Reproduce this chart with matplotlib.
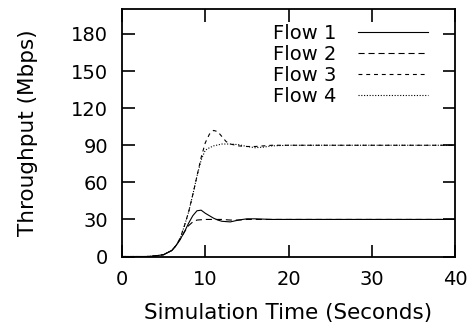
import matplotlib.pyplot as plt
import numpy as np

plt.rcParams['font.family'] = ['DejaVu Sans']

# time (s) and throughput (Mbps)
t1 = [0, 3, 4, 5, 6, 6.5, 7, 7.5, 8, 8.5, 9, 9.5, 10, 10.5, 11, 11.5, 12, 13, 14, 15, 16, 18, 20, 25, 30, 35, 40]
flow1 = [0, 0, 0.5, 1.5, 5, 9, 14, 20, 27, 33, 37, 37.5, 35, 33, 31, 29.5, 28.5, 28, 29.5, 30.5, 30.5, 30, 30, 30, 30, 30, 30]

t2 = [0, 3, 4, 5, 6, 6.5, 7, 7.5, 8, 8.5, 9, 10, 11, 12, 13, 14, 15, 16, 18, 20, 25, 30, 35, 40]
flow2 = [0, 0, 0.5, 1.5, 5, 9, 14, 20, 25, 28, 29.5, 30, 30, 30, 29.5, 29.5, 30, 30, 30, 30, 30, 30, 30, 30]

t3 = [0, 3, 4, 5, 6, 6.5, 7, 7.5, 8, 8.5, 9, 9.5, 10, 10.5, 11, 11.5, 12, 12.5, 13, 14, 15, 16, 17, 18, 20, 25, 30, 35, 40]
flow3 = [0, 0, 0.5, 1.5, 5, 9, 15, 25, 36, 50, 65, 80, 92, 99, 102, 101, 97, 93, 91, 89.5, 89, 89, 89.5, 90, 90, 90, 90, 90, 90]

t4 = [0, 3, 4, 5, 6, 6.5, 7, 7.5, 8, 8.5, 9, 9.5, 10, 10.5, 11, 12, 13, 14, 15, 16, 17, 18, 20, 25, 30, 35, 40]
flow4 = [0, 0, 0.5, 1.5, 5, 9, 15, 25, 36, 50, 65, 78, 86, 88, 89.5, 91, 91, 90.5, 89, 88, 88.5, 89.5, 90, 90, 90, 90, 90]

fig, ax = plt.subplots(figsize=(4.73, 3.31), dpi=100)
fig.subplots_adjust(left=0.258, right=0.962, top=0.972, bottom=0.225)

lw = 0.8
ax.plot(t1, flow1, color='black', lw=lw, ls='-', label='Flow 1')
ax.plot(t2, flow2, color='black', lw=lw, ls=(0, (5.5, 3.5)), label='Flow 2')
ax.plot(t3, flow3, color='black', lw=lw, ls=(0, (3.5, 3.5)), label='Flow 3')
ax.plot(t4, flow4, color='black', lw=lw, ls=(0, (1, 1.5)), label='Flow 4')

ax.set_xlim(0, 40)
ax.set_ylim(0, 200)
ax.set_xticks([0, 10, 20, 30, 40])
ax.set_yticks([0, 30, 60, 90, 120, 150, 180])
ax.tick_params(direction='in', top=True, right=True, length=9, width=1.2,
               labelsize=14, pad=10)
for s in ax.spines.values():
    s.set_linewidth(1.3)

ax.set_xlabel('Simulation Time (Seconds)', fontsize=15.5, labelpad=10)
ax.set_ylabel('Throughput (Mbps)', fontsize=15.5, labelpad=24)

ax.legend(loc='upper right', frameon=False, markerfirst=False, fontsize=14,
          handlelength=3.6, handletextpad=1.1, labelspacing=0.11,
          borderpad=0, borderaxespad=0, bbox_to_anchor=(0.919, 0.942))

fig.savefig('out.png', dpi=100)
